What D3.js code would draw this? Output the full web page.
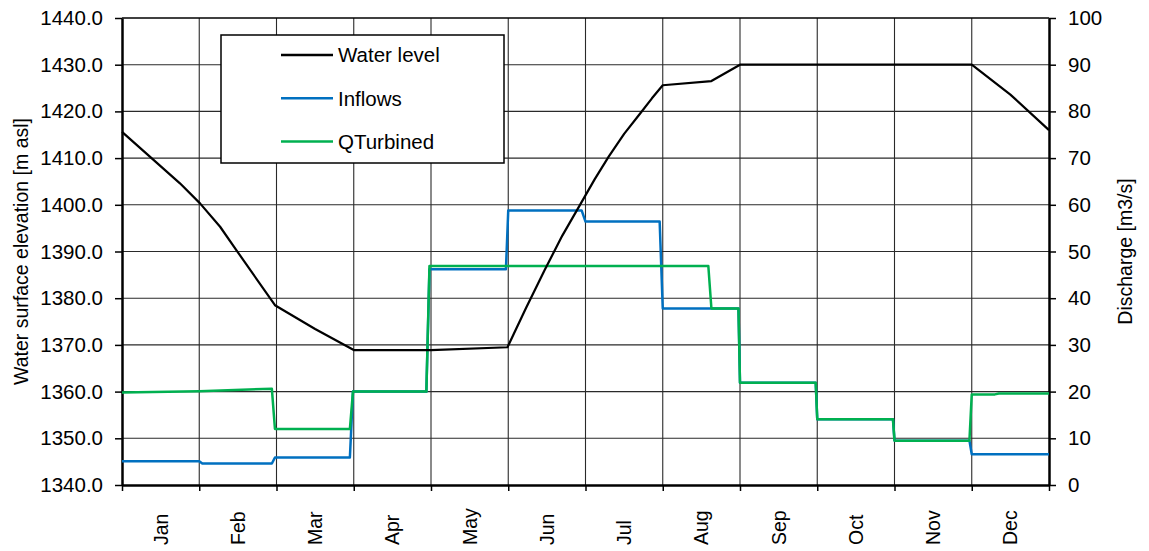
<!DOCTYPE html>
<html lang="en">
  <head>
    <meta charset="UTF-8" />
    <title>Reservoir - Water level, Inflows and QTurbined</title>
    <script src="https://d3js.org/d3.v7.min.js"></script>
    <style>
      body { margin: 0; background: #fff; }
      svg text { font-family: "Liberation Sans", Arial, sans-serif; fill: #000; }
    </style>
  </head>
  <body>
    <svg id="chart" width="1149" height="551"></svg>

    <script>
      // month labels and axis ticks
      const months = ["Jan", "Feb", "Mar", "Apr", "May", "Jun", "Jul", "Aug", "Sep", "Oct", "Nov", "Dec"];
      const levelTicks = [1340, 1350, 1360, 1370, 1380, 1390, 1400, 1410, 1420, 1430, 1440];
      const dischargeTicks = [0, 10, 20, 30, 40, 50, 60, 70, 80, 90, 100];

      // [month position, value]
      const waterLevel = [
        [0, 1415.6], [0.75, 1404.6], [1.01, 1400.3], [1.27, 1395.3], [1.48, 1390.3],
        [1.98, 1378.5], [2.5, 1373.4], [3.0, 1368.9], [4.0, 1368.9], [4.99, 1369.5],
        [5.23, 1377.9], [5.47, 1386.0], [5.7, 1393.4], [5.94, 1400.3], [6.12, 1405.5],
        [6.3, 1410.3], [6.5, 1415.2], [6.71, 1419.6], [6.86, 1422.8], [7.0, 1425.6],
        [7.63, 1426.5], [8.0, 1430.0], [11.0, 1430.0], [11.5, 1423.6], [12.0, 1416.0]
      ];
      const inflows = [
        [0, 5.1], [1.0, 5.1], [1.04, 4.6], [1.94, 4.6], [1.98, 5.9], [2.95, 5.9],
        [2.99, 20.0], [3.94, 20.0], [3.98, 46.2], [4.97, 46.2], [5.0, 58.8], [5.95, 58.8],
        [6.0, 56.4], [6.96, 56.4], [7.0, 37.8], [7.98, 37.8], [8.0, 21.9], [8.98, 21.9],
        [9.0, 14.1], [9.98, 14.1], [10.0, 9.5], [10.97, 9.5], [11.0, 6.6], [12.0, 6.6]
      ];
      const qTurbined = [
        [0, 19.8], [1.0, 20.1], [1.94, 20.6], [1.98, 12.0], [2.95, 12.0], [2.99, 20.0],
        [3.94, 20.0], [3.98, 46.9], [7.59, 46.9], [7.63, 37.8], [7.98, 37.8], [8.0, 21.9],
        [8.98, 21.9], [9.0, 14.1], [9.98, 14.1], [10.0, 9.5], [10.97, 9.5], [11.0, 19.4],
        [11.3, 19.4], [11.35, 19.6], [12.0, 19.6]
      ];

      const svg = d3.select("#chart");
      const plot = { left: 122, right: 1049, top: 18, bottom: 485 };

      const x = d3.scaleLinear().domain([0, 12]).range([plot.left, plot.right]);
      const xMonth = d3.scaleBand().domain(months).range([plot.left, plot.right]);
      const yLevel = d3.scaleLinear().domain([1340, 1440]).range([plot.bottom, plot.top]);
      const yQ = d3.scaleLinear().domain([0, 100]).range([plot.bottom, plot.top]);

      // grid
      const grid = svg.append("g").attr("stroke", "#2a2a2a").attr("stroke-width", 1.1);
      grid.selectAll(".gy")
        .data(levelTicks.slice(1, -1))
        .join("line")
        .attr("x1", plot.left).attr("x2", plot.right)
        .attr("y1", (d) => yLevel(d)).attr("y2", (d) => yLevel(d));
      grid.selectAll(".gx")
        .data(d3.range(1, 12))
        .join("line")
        .attr("x1", (d) => x(d)).attr("x2", (d) => x(d))
        .attr("y1", plot.top).attr("y2", plot.bottom);

      // top border
      svg.append("line")
        .attr("x1", plot.left).attr("x2", plot.right)
        .attr("y1", plot.top).attr("y2", plot.top)
        .attr("stroke", "#000").attr("stroke-width", 1.5);

      // axes
      const axisL = svg.append("g")
        .attr("transform", `translate(${plot.left},0)`)
        .call(d3.axisLeft(yLevel).tickValues(levelTicks).tickFormat(d3.format(".1f")).tickSize(7).tickPadding(12).tickSizeOuter(0));
      const axisR = svg.append("g")
        .attr("transform", `translate(${plot.right},0)`)
        .call(d3.axisRight(yQ).tickValues(dischargeTicks).tickFormat(d3.format("d")).tickSize(7).tickPadding(12).tickSizeOuter(0));
      const axisB = svg.append("g")
        .attr("transform", `translate(0,${plot.bottom})`)
        .call(d3.axisBottom(x).tickValues(d3.range(0, 13)).tickFormat("").tickSize(6).tickSizeOuter(0));

      [axisL, axisR, axisB].forEach((a) => {
        a.attr("font-family", null);
        a.select(".domain").attr("stroke", "#000").attr("stroke-width", 2.5);
        a.selectAll(".tick line").attr("stroke", "#000").attr("stroke-width", 1.5);
        a.selectAll("text").attr("font-size", 20.5);
      });

      // month labels, rotated
      svg.append("g")
        .selectAll("text")
        .data(months)
        .join("text")
        .attr("transform", (d) => `translate(${xMonth(d) + xMonth.bandwidth() / 2},545) rotate(-90)`)
        .attr("dy", "0.36em")
        .attr("font-size", 19.5)
        .attr("text-anchor", "start")
        .text((d) => d);

      // axis titles
      svg.append("text")
        .attr("transform", `translate(28,${(plot.top + plot.bottom) / 2}) rotate(-90)`)
        .attr("text-anchor", "middle")
        .attr("font-size", 19.5)
        .text("Water surface elevation [m asl]");
      svg.append("text")
        .attr("transform", `translate(1132,${(plot.top + plot.bottom) / 2}) rotate(-90)`)
        .attr("text-anchor", "middle")
        .attr("font-size", 19.5)
        .text("Discharge [m3/s]");

      // lines
      const lineQ = d3.line().x((d) => x(d[0])).y((d) => yQ(d[1]));
      const lineLevel = d3.line().x((d) => x(d[0])).y((d) => yLevel(d[1]));

      svg.append("path").datum(inflows)
        .attr("fill", "none").attr("stroke", "#0070C0").attr("stroke-width", 2.5)
        .attr("stroke-linejoin", "round").attr("d", lineQ);
      svg.append("path").datum(qTurbined)
        .attr("fill", "none").attr("stroke", "#00B050").attr("stroke-width", 2.5)
        .attr("stroke-linejoin", "round").attr("d", lineQ);
      svg.append("path").datum(waterLevel)
        .attr("fill", "none").attr("stroke", "#000").attr("stroke-width", 2.2)
        .attr("stroke-linejoin", "round").attr("d", lineLevel);

      // legend
      const legendItems = [
        { name: "Water level", color: "#000" },
        { name: "Inflows", color: "#0070C0" },
        { name: "QTurbined", color: "#00B050" }
      ];
      const legend = svg.append("g").attr("transform", "translate(221,35)");
      legend.append("rect")
        .attr("width", 283).attr("height", 128)
        .attr("fill", "#fff").attr("stroke", "#000").attr("stroke-width", 1.5);
      const item = legend.selectAll(".item")
        .data(legendItems)
        .join("g")
        .attr("transform", (d, i) => `translate(0,${20 + i * 43.3})`);
      item.append("line")
        .attr("x1", 60).attr("x2", 112)
        .attr("stroke", (d) => d.color).attr("stroke-width", 2.5);
      item.append("text")
        .attr("x", 117).attr("dy", "0.36em")
        .attr("font-size", 20.5)
        .text((d) => d.name);
    </script>
  </body>
</html>
